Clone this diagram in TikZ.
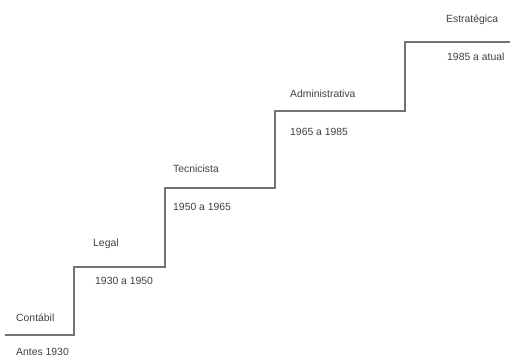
\documentclass[tikz,border=0pt]{standalone}
\usepackage{fontspec}
\setmainfont{Liberation Sans}
\begin{document}
\begin{tikzpicture}[x=1pt,y=-1pt,
  stair/.style={draw=black!55, line width=1.1pt},
  lbl/.style={anchor=west, inner sep=0pt, text=black!75, font=\fontsize{10.4}{12}\selectfont}]
\useasboundingbox (0,0) rectangle (510,358);
\coordinate (p0) at (5,335);
\coordinate (p1) at (74,335);
\coordinate (p2) at (74,267);
\coordinate (p3) at (165,267);
\coordinate (p4) at (165,188);
\coordinate (p5) at (275,188);
\coordinate (p6) at (275,111);
\coordinate (p7) at (405,111);
\coordinate (p8) at (405,42);
\coordinate (p9) at (510,42);
\draw[stair] (p0) -- (p1) -- (p2) -- (p3) -- (p4) -- (p5) -- (p6) -- (p7) -- (p8) -- (p9);
\node[lbl] (c1) at (16,318) {Contábil};
\node[lbl] (c2) at (16,352) {Antes 1930};
\node[lbl] (l1) at (93,244) {Legal};
\node[lbl] (l2) at (95,281) {1930 a 1950};
\node[lbl] (t1) at (173,169) {Tecnicista};
\node[lbl] (t2) at (173,207) {1950 a 1965};
\node[lbl] (a1) at (290,94) {Administrativa};
\node[lbl] (a2) at (290,132) {1965 a 1985};
\node[lbl] (e1) at (446,20) {Estratégica};
\node[lbl] (e2) at (447,57) {1985 a atual};
\end{tikzpicture}
\end{document}
